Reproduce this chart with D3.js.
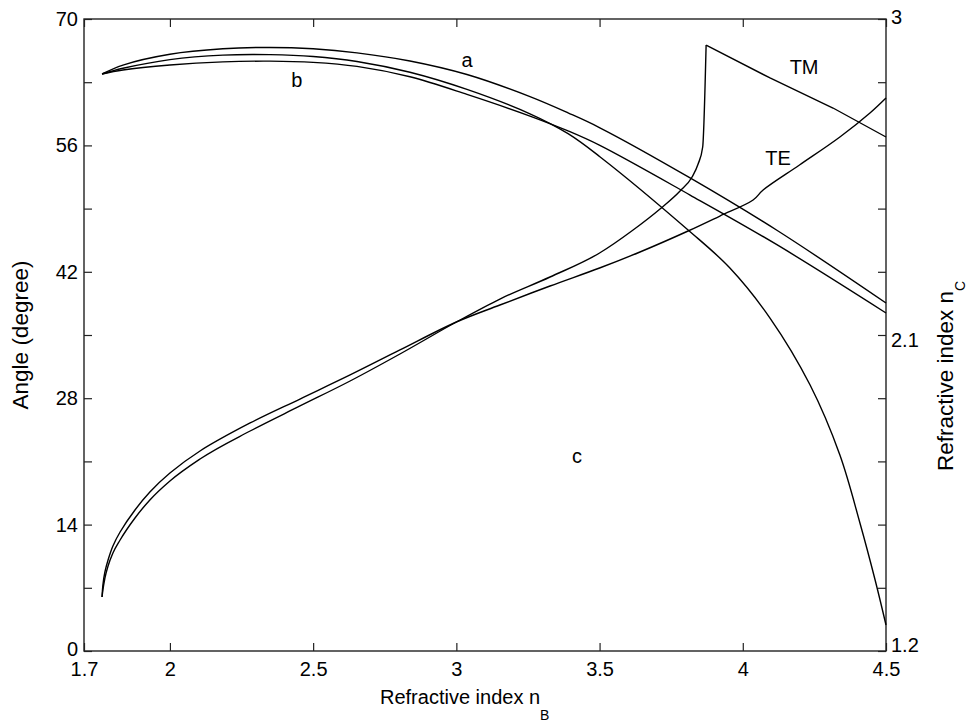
<!DOCTYPE html>
<html><head><meta charset="utf-8">
<script src="https://cdn.jsdelivr.net/npm/d3@7"></script>
<style>
body{margin:0;background:#fff;}
text{font-family:"Liberation Sans",Arial,Helvetica,sans-serif;fill:#000;}
</style>
</head><body>
<svg id="chart" width="969" height="724"></svg>
<script>
// ---------- data ----------
const xDomain = [1.7, 4.5];
const yLeftDomain = [0, 70];
const yRightDomain = [1.2, 3];
const xTicks = [1.7, 2, 2.5, 3, 3.5, 4, 4.5];
const yLeftTicks = [0, 7, 14, 21, 28, 35, 42, 49, 56, 63, 70];
const yLeftLabels = [0, 14, 28, 42, 56, 70];
const yRightTicks = [1.2, 1.38, 1.56, 1.74, 1.92, 2.1, 2.28, 2.46, 2.64, 2.82, 3];
const yRightLabels = [1.2, 2.1, 3];

// curves a and b (left axis, degrees)
const nB_ab = [1.763, 1.836, 2.0, 2.185, 2.349, 2.5, 2.653, 2.838, 3.037, 3.257, 3.39, 3.501, 3.816, 4.119, 4.5];
const angleA = [63.91, 64.90, 66.10, 66.70, 66.85, 66.70, 66.25, 65.35, 63.85, 61.40, 59.60, 57.95, 52.40, 46.60, 38.54];
const angleB = [63.91, 64.35, 64.90, 65.25, 65.33, 65.20, 64.75, 63.60, 61.65, 59.25, 57.60, 56.00, 50.50, 45.00, 37.44];
// curve c (left axis, degrees)
const nB_c = [1.763, 1.836, 2.0, 2.185, 2.349, 2.5, 2.653, 2.838, 3.037, 3.257, 3.39, 3.501, 3.809, 3.955, 4.095, 4.235, 4.339, 4.409, 4.462, 4.5];
const angleC = [63.91, 64.54, 65.50, 66.00, 66.05, 65.85, 65.30, 64.10, 62.20, 59.50, 57.30, 54.75, 46.63, 42.42, 36.88, 29.46, 21.71, 14.18, 7.86, 2.88];
// TE (right axis, refractive index nC)
const nB_TE = [1.763, 1.766, 1.773, 1.784, 1.801, 1.826, 1.878, 1.930, 2.0, 2.105, 2.28, 2.454, 2.629, 2.803, 3.0, 3.152, 3.327, 3.5, 3.641, 3.809, 3.92, 4.036, 4.071, 4.198, 4.339, 4.444, 4.5];
const nC_TE = [1.3538, 1.3880, 1.4250, 1.4592, 1.4991, 1.5389, 1.6016, 1.6528, 1.7069, 1.7696, 1.8494, 1.9177, 1.9861, 2.0573, 2.1370, 2.1854, 2.2396, 2.2908, 2.3364, 2.3962, 2.4389, 2.4845, 2.5130, 2.5842, 2.6639, 2.7323, 2.7750];
// TM (right axis, refractive index nC)
const nB_TM = [1.763, 1.766, 1.773, 1.784, 1.801, 1.826, 1.878, 1.930, 2.0, 2.105, 2.28, 2.454, 2.629, 2.803, 3.0, 3.152, 3.327, 3.5, 3.617, 3.711, 3.781, 3.823, 3.844, 3.860, 3.872, 4.095, 4.315, 4.5];
const nC_TM = [1.3538, 1.3737, 1.4079, 1.4421, 1.4791, 1.5161, 1.5788, 1.6301, 1.6842, 1.7468, 1.8266, 1.8978, 1.9690, 2.0459, 2.1370, 2.2025, 2.2652, 2.3335, 2.3990, 2.4589, 2.5101, 2.5500, 2.5870, 2.6354, 2.9259, 2.8320, 2.7465, 2.6639];

// curve labels: [text, nB, angle]
const curveLabels = [["a", 3.037, 65.46], ["b", 2.443, 63.24], ["c", 3.421, 21.6], ["TM", 4.214, 64.68], ["TE", 4.123, 54.6]];

// ---------- layout ----------
const svg = d3.select("#chart");
const L = 84, R = 886, T = 19, B = 651;
const fs = 20, titleFs = 22.5;

const x = d3.scaleLinear().domain(xDomain).range([L, R]);
const yL = d3.scaleLinear().domain(yLeftDomain).range([B, T]);
const yR = d3.scaleLinear().domain(yRightDomain).range([B, T]);

const axisColor = "#222";
function styleAxis(g) {
  g.select(".domain").remove();
  g.selectAll(".tick line").attr("stroke", axisColor).attr("stroke-width", 1.2);
  g.selectAll(".tick text").style("font-size", fs + "px").attr("fill", "#000");
}

// bottom
svg.append("g").attr("transform", `translate(0,${B})`)
  .call(d3.axisBottom(x).tickValues(xTicks).tickSize(-8).tickPadding(11).tickFormat(d => String(d)))
  .call(styleAxis);
// top
svg.append("g").attr("transform", `translate(0,${T})`)
  .call(d3.axisTop(x).tickValues(xTicks).tickSize(-8).tickFormat(""))
  .call(styleAxis);
// left
svg.append("g").attr("transform", `translate(${L},0)`)
  .call(d3.axisLeft(yL).tickValues(yLeftTicks).tickSize(-8).tickPadding(6)
    .tickFormat(d => yLeftLabels.includes(d) ? String(d) : ""))
  .call(styleAxis)
  .call(g => g.selectAll(".tick text").filter(d => d === 0).attr("dy", "0.22em"));
// right
const rightShift = new Map([[3, -2], [2.1, 5], [1.2, -6]]);
svg.append("g").attr("transform", `translate(${R},0)`)
  .call(d3.axisRight(yR).tickValues(yRightTicks).tickSize(-8).tickPadding(5)
    .tickFormat(d => yRightLabels.includes(d) ? String(d) : ""))
  .call(styleAxis)
  .call(g => g.selectAll(".tick text").attr("dy", d => (rightShift.has(d) ? (0.32 * fs + rightShift.get(d)) : 0) + "px"));

// frame
svg.append("rect").attr("x", L).attr("y", T).attr("width", R - L).attr("height", B - T)
  .attr("fill", "none").attr("stroke", axisColor).attr("stroke-width", 1.4);

// curves
const smooth = d3.curveCatmullRom.alpha(0.5);
const lineL = d3.line().x(d => x(d[0])).y(d => yL(d[1])).curve(smooth);
const lineR = d3.line().x(d => x(d[0])).y(d => yR(d[1])).curve(smooth);
const lineRlin = d3.line().x(d => x(d[0])).y(d => yR(d[1])).curve(d3.curveLinear);
const tmPts = d3.zip(nB_TM, nC_TM);
const peak = d3.maxIndex(nC_TM);
const series = [
  [lineL, d3.zip(nB_ab, angleA)],
  [lineL, d3.zip(nB_ab, angleB)],
  [lineL, d3.zip(nB_c, angleC)],
  [lineR, d3.zip(nB_TE, nC_TE)],
  [d3.line().x(d => x(d[0])).y(d => yR(d[1])).curve(d3.curveMonotoneX), tmPts.slice(0, peak + 1)],
  [lineRlin, tmPts.slice(peak)]
];
series.forEach(([gen, pts]) => {
  svg.append("path").attr("d", gen(pts)).attr("fill", "none")
    .attr("stroke", "#000").attr("stroke-width", 1.4).attr("stroke-linejoin", "round");
});

// curve labels
curveLabels.forEach(([t, xv, yv]) => {
  svg.append("text").attr("x", x(xv)).attr("y", yL(yv)).attr("dy", "0.35em")
    .attr("text-anchor", "middle").style("font-size", fs + "px").text(t);
});

// axis titles
const xt = svg.append("text").attr("x", 380).attr("y", 704).style("font-size", fs + "px");
xt.append("tspan").text("Refractive index n");
xt.append("tspan").attr("dy", 16).style("font-size", "14px").text("B");

svg.append("text").attr("transform", `translate(28,335) rotate(-90)`)
  .attr("text-anchor", "middle").style("font-size", titleFs + "px").text("Angle (degree)");

const yt = svg.append("text").attr("transform", `translate(953,471) rotate(-90)`).style("font-size", titleFs + "px");
yt.append("tspan").text("Refractive index n");
yt.append("tspan").attr("dy", 12).style("font-size", "14px").text("C");
</script>
</body></html>
